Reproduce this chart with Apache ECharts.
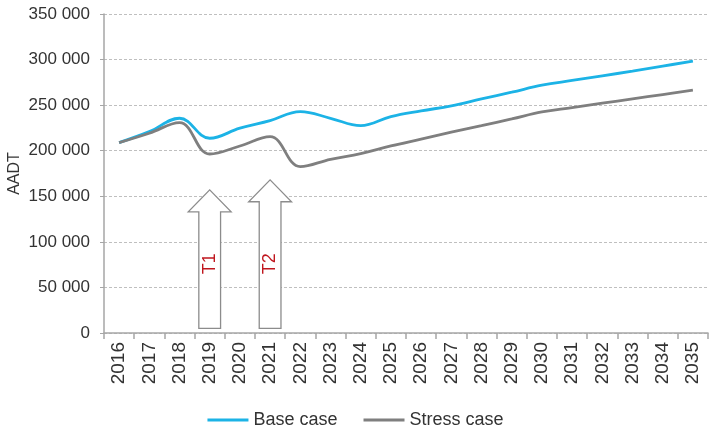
<!DOCTYPE html>
<html>
<head>
<meta charset="utf-8">
<script src="https://cdn.jsdelivr.net/npm/echarts@6/dist/echarts.min.js"></script>
<style>html,body{margin:0;padding:0;background:#fff}#c{width:711px;height:429px}</style>
</head>
<body>
<div id="c"></div>
<script>
const years = ['2016','2017','2018','2019','2020','2021','2022','2023','2024','2025','2026','2027','2028','2029','2030','2031','2032','2033','2034','2035'];
const baseCase = [208900,220900,235600,213700,224700,233000,242900,235600,227500,237400,243700,249200,256900,264200,271900,277100,282200,287300,292800,298300];
const stressCase = [208900,219200,230800,196400,205200,215400,182500,190600,196800,205200,212700,220300,227500,234900,242600,247300,252100,256900,261600,266400];
const yTicks = [0,50000,100000,150000,200000,250000,300000,350000];
const arrowYears = ['2019','2021'];
const arrowTips = [157000,168000];
const arrowHeadBases = [133000,144000];
const arrowBottoms = [5000,5000];
const arrowLabels = ['T1','T2'];
const arrowLabelValues = [76000,76000];

const FONT = '"Liberation Sans", Arial, sans-serif';
const arrowData = arrowYears.map((y,i)=>[y, arrowTips[i], arrowHeadBases[i], arrowBottoms[i], arrowLabelValues[i], arrowLabels[i]]);

function fmt(v){ return String(v).replace(/\B(?=(\d{3})+(?!\d))/g,' '); }

const chart = echarts.init(document.getElementById('c'), null, {renderer:'canvas'});
chart.setOption({
  animation:false,
  grid:{left:104,right:3,top:14,bottom:96,containLabel:false,outerBoundsMode:'none'},
  legend:{
    data:['Base case','Stress case'],
    left:'center', top:406,
    icon:'rect', itemWidth:41, itemHeight:3, itemGap:26,
    textStyle:{fontFamily:FONT,fontSize:18,color:'#333333'}
  },
  xAxis:{
    type:'category', data:years, boundaryGap:true,
    axisLine:{lineStyle:{color:'#a6a6a6',width:1.5}},
    axisTick:{show:true,length:6,lineStyle:{color:'#a6a6a6',width:1.5}},
    axisLabel:{rotate:90,interval:0,fontFamily:FONT,fontSize:19,color:'#333333',margin:9}
  },
  yAxis:{
    type:'value', min:0, max:350000, interval:50000,
    name:'AADT', nameLocation:'middle', nameGap:81, nameRotate:90, nameMoveOverlap:false,
    nameTextStyle:{fontFamily:FONT,fontSize:16,color:'#333333'},
    axisLine:{show:true,lineStyle:{color:'#a6a6a6',width:1.5}},
    axisTick:{show:true,length:4,lineStyle:{color:'#a6a6a6'}},
    axisLabel:{fontFamily:FONT,fontSize:17,color:'#333333',margin:14,
      formatter:function(v){return yTicks.indexOf(v)>=0?fmt(v):'';}},
    splitLine:{show:true,lineStyle:{color:'#bfbfbf',type:[3,2],width:1}}
  },
  series:[
    {
      name:'arrows', type:'custom', z:1, silent:true,
      data:arrowData,
      encode:{x:0,y:[1,2,3]},
      renderItem:function(params, api){
        const cat = api.value(0);
        const tip = api.coord([cat, api.value(1)]);
        const hb = api.coord([cat, api.value(2)]);
        const bot = api.coord([cat, api.value(3)]);
        const lab = api.coord([cat, api.value(4)]);
        const band = api.size([1,0])[0];
        const bw = band*0.36, hw = band*0.71;
        const cx = tip[0];
        const pts = [[cx,tip[1]],[cx+hw,hb[1]],[cx+bw,hb[1]],[cx+bw,bot[1]],[cx-bw,bot[1]],[cx-bw,hb[1]],[cx-hw,hb[1]]];
        return {type:'group',children:[
          {type:'polygon',shape:{points:pts},style:{fill:'#ffffff',stroke:'#8c8c8c',lineWidth:1.3}},
          {type:'text',x:lab[0],y:lab[1],rotation:Math.PI/2,
            style:{text:api.value(5),fill:'#c0161e',font:'18px '+FONT,align:'center',verticalAlign:'middle'}}
        ]};
      }
    },
    {
      name:'Base case', type:'line', data:baseCase, smooth:0.4, symbol:'none', z:3,
      lineStyle:{color:'#1cb3e6',width:2.8}, itemStyle:{color:'#1cb3e6'}
    },
    {
      name:'Stress case', type:'line', data:stressCase, smooth:0.4, symbol:'none', z:3,
      lineStyle:{color:'#7f7f7f',width:2.8}, itemStyle:{color:'#7f7f7f'}
    }
  ]
});
</script>
</body>
</html>
